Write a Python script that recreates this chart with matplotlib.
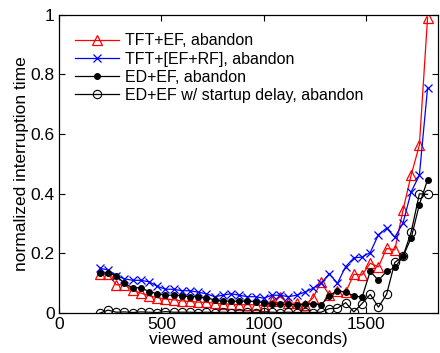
import matplotlib
matplotlib.use("Agg")
import matplotlib.pyplot as plt
import numpy as np

plt.rcParams['font.family'] = ['Liberation Sans', 'DejaVu Sans']

viewed = list(range(200, 1801, 40))

tft_ef = [0.13, 0.13, 0.095, 0.095, 0.078, 0.067, 0.058, 0.052, 0.047, 0.045,
          0.041, 0.039, 0.037, 0.036, 0.033, 0.031, 0.030, 0.028, 0.028, 0.028,
          0.025, 0.040, 0.055, 0.033, 0.034, 0.028, 0.050, 0.105, 0.060, 0.075,
          0.070, 0.130, 0.128, 0.167, 0.155, 0.217, 0.212, 0.345, 0.463, 0.563,
          0.990]

tft_efrf = [0.150, 0.145, 0.125, 0.115, 0.110, 0.110, 0.105, 0.090, 0.080, 0.080,
            0.075, 0.075, 0.070, 0.065, 0.055, 0.060, 0.065, 0.060, 0.055, 0.055,
            0.050, 0.060, 0.060, 0.055, 0.060, 0.070, 0.083, 0.100, 0.132, 0.100,
            0.156, 0.185, 0.188, 0.203, 0.263, 0.285, 0.254, 0.302, 0.407, 0.462,
            0.755]

ed_ef = [0.135, 0.135, 0.125, 0.100, 0.085, 0.085, 0.072, 0.065, 0.060, 0.060,
         0.058, 0.055, 0.055, 0.050, 0.045, 0.040, 0.040, 0.040, 0.040, 0.038,
         0.035, 0.030, 0.030, 0.030, 0.028, 0.030, 0.030, 0.028, 0.058, 0.075,
         0.070, 0.058, 0.053, 0.140, 0.110, 0.140, 0.153, 0.190, 0.252, 0.364,
         0.447]

ed_ef_sd = [0.000, 0.010, 0.003, 0.004, 0.002, 0.004, 0.003, 0.002, 0.005, 0.003,
            0.003, 0.003, 0.002, 0.003, 0.002, 0.003, 0.002, 0.002, 0.003, 0.002,
            0.003, 0.003, 0.002, 0.003, 0.002, 0.003, 0.002, 0.003, 0.015, 0.016,
            0.035, 0.004, 0.032, 0.063, 0.020, 0.063, 0.170, 0.190, 0.272, 0.400,
            0.398]

labels = ["TFT+EF, abandon", "TFT+[EF+RF], abandon", "ED+EF, abandon",
          "ED+EF w/ startup delay, abandon"]

fig = plt.figure(figsize=(4.4, 3.53), dpi=100)
ax = fig.add_axes([0.134, 0.113, 0.861, 0.845])

ax.plot(viewed, tft_ef, color='red', lw=0.9, marker='^', ms=6.5, mfc='none',
        mec='red', mew=0.9, label=labels[0])
ax.plot(viewed, tft_efrf, color='blue', lw=0.9, marker='x', ms=6, mec='blue',
        mew=0.9, label=labels[1])
ax.plot(viewed, ed_ef, color='black', lw=0.9, marker='o', ms=4, mfc='black',
        mec='black', label=labels[2])
ax.plot(viewed, ed_ef_sd, color='black', lw=0.9, marker='o', ms=6, mfc='none',
        mec='black', mew=0.8, label=labels[3])

ax.set_xlim(0, 1850)
ax.set_ylim(0, 1)
ax.set_xticks([0, 500, 1000, 1500])
ax.set_yticks([0, 0.2, 0.4, 0.6, 0.8, 1])
ax.set_yticklabels(['0', '0.2', '0.4', '0.6', '0.8', '1'])
ax.tick_params(direction='in', top=True, right=True, labelsize=12.5, length=4,
               width=0.8, pad=3)
for s in ax.spines.values():
    s.set_linewidth(0.9)

ax.set_xlabel('viewed amount (seconds)', fontsize=12.5, labelpad=0)
ax.set_ylabel('normalized interruption time', fontsize=12.5, labelpad=1)

leg = ax.legend(loc='upper left', frameon=False, fontsize=11.5,
                bbox_to_anchor=(0.012, 0.975), handlelength=2.8,
                handletextpad=0.35, labelspacing=0.2, borderaxespad=0.3)

fig.savefig('out.png', dpi=100)
